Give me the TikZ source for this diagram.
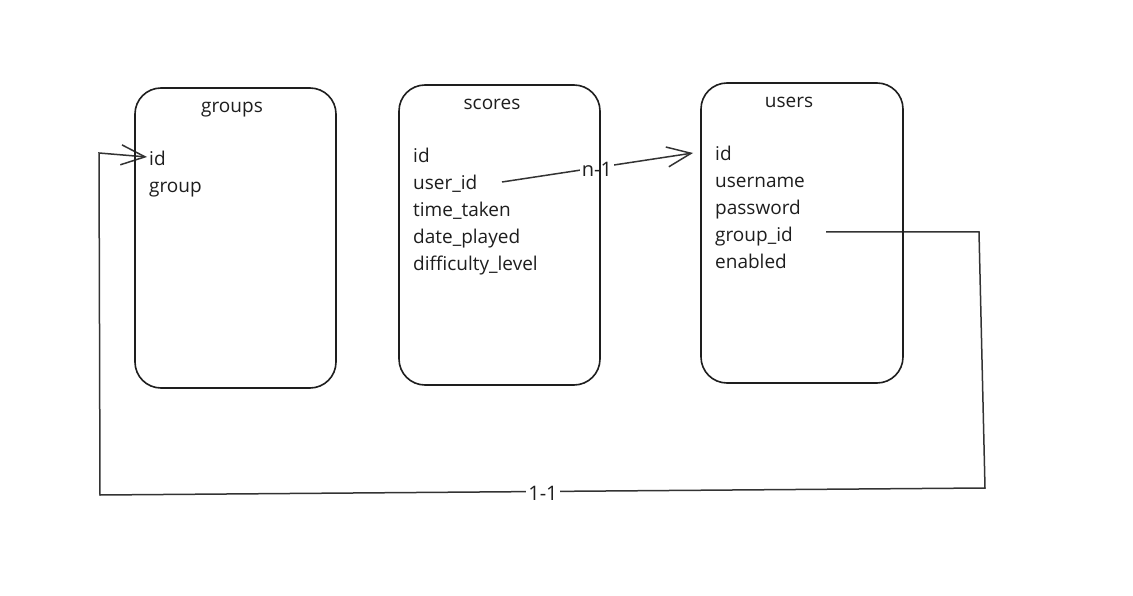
\documentclass[tikz,border=0pt]{standalone}
\usepackage{fontspec}
\setmainfont{Open Sans}
\usetikzlibrary{arrows.meta}
\definecolor{ink}{HTML}{1E1E1E}
\definecolor{wire}{HTML}{333333}
\begin{document}
\begin{tikzpicture}[x=1pt,y=-1pt,
  tablebox/.style={draw=ink,line width=1.6pt,rounded corners=26pt,fill=none},
  field/.style={anchor=base west,inner sep=0pt,font=\fontsize{19}{22}\selectfont,text=ink},
  title/.style={anchor=base,inner sep=0pt,font=\fontsize{19}{22}\selectfont,text=ink},
  wirestyle/.style={draw=wire,line width=1.5pt},
  barb/.style={-{Straight Barb[length=24pt,width=20pt,line width=1.5pt]}},
  lbl/.style={fill=white,inner sep=2pt,font=\fontsize{20}{22}\selectfont,text=ink}]
\useasboundingbox (0,0) rectangle (1133,596);
\fill[white] (0,0) rectangle (1133,596);
% titles
\node[title] (tg) at (232,113) {groups};
\node[title] (ts) at (492,110) {scores};
\node[title] (tu) at (789,108) {users};
% groups fields
\node[field] (gid) at (149,166) {id};
\node[field] (ggroup) at (149,193) {group};
% scores fields
\node[field] (sid) at (413,163) {id};
\node[field] (suid) at (413,190) {user\_id};
\node[field] (stime) at (413,217) {time\_taken};
\node[field] (sdate) at (413,244) {date\_played};
\node[field] (sdiff) at (413,271) {difficulty\_level};
% users fields
\node[field] (uid) at (715,161) {id};
\node[field] (uname) at (715,188) {username};
\node[field] (upass) at (715,215) {password};
\node[field] (ugroup) at (715,242) {group\_id};
\node[field] (uen) at (715,269) {enabled};
% connector n-1
\coordinate (c1s) at (502,182);
\coordinate (c1e) at (693,153);
\draw[wirestyle,barb] (c1s) -- (c1e);
\node[lbl] (l1) at (597,169) {n-1};
% connector 1-1
\coordinate (c2s) at (826,232);
\coordinate (c2a) at (979,232);
\coordinate (c2b) at (985,488);
\coordinate (c2c) at (100,495);
\coordinate (c2d) at (99,153);
\coordinate (c2e) at (147,157);
\draw[wirestyle,barb] (c2s) -- (c2a) -- (c2b) -- (c2c) -- (c2d) -- (c2e);
\node[lbl] (l2) at (543,493) {1-1};
% boxes
\node[tablebox,minimum width=201pt,minimum height=300pt,inner sep=0pt] (groups) at (235.5,238) {};
\node[tablebox,minimum width=201pt,minimum height=300pt,inner sep=0pt] (scores) at (499.5,235) {};
\node[tablebox,minimum width=202pt,minimum height=300pt,inner sep=0pt] (users) at (802,233) {};
\end{tikzpicture}
\end{document}
